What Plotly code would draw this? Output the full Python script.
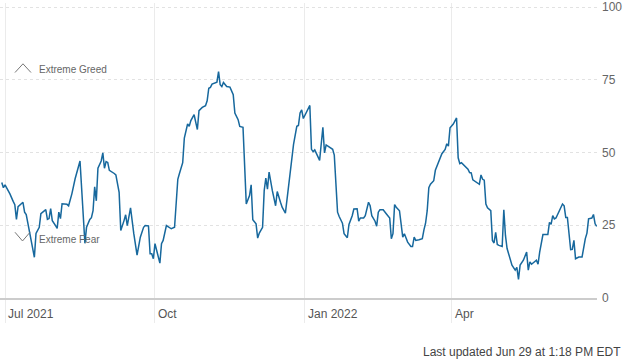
import plotly.graph_objects as go

# ---- data ----
dates = [
    "2021-06-29", "2021-06-30", "2021-07-01", "2021-07-02", "2021-07-04", "2021-07-06", "2021-07-07",
    "2021-07-08", "2021-07-09", "2021-07-12", "2021-07-13", "2021-07-14", "2021-07-16", "2021-07-19",
    "2021-07-20", "2021-07-22", "2021-07-23", "2021-07-26", "2021-07-27", "2021-07-28", "2021-07-29",
    "2021-07-30", "2021-08-01", "2021-08-02", "2021-08-03", "2021-08-04", "2021-08-05", "2021-08-08",
    "2021-08-09", "2021-08-11", "2021-08-13", "2021-08-16", "2021-08-19", "2021-08-20", "2021-08-22",
    "2021-08-23", "2021-08-24", "2021-08-25", "2021-08-26", "2021-08-27", "2021-08-29", "2021-08-30",
    "2021-08-31", "2021-09-01", "2021-09-02", "2021-09-03", "2021-09-06", "2021-09-07", "2021-09-09",
    "2021-09-10", "2021-09-12", "2021-09-13", "2021-09-14", "2021-09-16", "2021-09-18", "2021-09-19",
    "2021-09-20", "2021-09-22", "2021-09-24", "2021-09-25", "2021-09-27", "2021-09-28", "2021-09-29",
    "2021-09-30", "2021-10-01", "2021-10-02", "2021-10-04", "2021-10-05", "2021-10-06", "2021-10-08",
    "2021-10-10", "2021-10-11", "2021-10-13", "2021-10-15", "2021-10-16", "2021-10-18", "2021-10-19",
    "2021-10-21", "2021-10-22", "2021-10-23", "2021-10-25", "2021-10-27", "2021-10-28", "2021-10-30",
    "2021-11-01", "2021-11-02", "2021-11-03", "2021-11-04", "2021-11-05", "2021-11-08", "2021-11-09",
    "2021-11-10", "2021-11-11", "2021-11-12", "2021-11-14", "2021-11-16", "2021-11-18", "2021-11-19",
    "2021-11-21", "2021-11-22", "2021-11-24", "2021-11-26", "2021-11-28", "2021-11-29", "2021-11-30",
    "2021-12-02", "2021-12-03", "2021-12-04", "2021-12-06", "2021-12-07", "2021-12-08", "2021-12-09",
    "2021-12-10", "2021-12-11", "2021-12-12", "2021-12-14", "2021-12-15", "2021-12-17", "2021-12-18",
    "2021-12-20", "2021-12-22", "2021-12-24", "2021-12-25", "2021-12-27", "2021-12-28", "2021-12-29",
    "2021-12-30", "2021-12-31", "2022-01-02", "2022-01-04", "2022-01-05", "2022-01-06", "2022-01-07",
    "2022-01-09", "2022-01-10", "2022-01-12", "2022-01-13", "2022-01-14", "2022-01-16", "2022-01-18",
    "2022-01-19", "2022-01-21", "2022-01-22", "2022-01-24", "2022-01-25", "2022-01-27", "2022-01-28",
    "2022-01-30", "2022-01-31", "2022-02-02", "2022-02-03", "2022-02-04", "2022-02-06", "2022-02-07",
    "2022-02-09", "2022-02-10", "2022-02-11", "2022-02-13", "2022-02-14", "2022-02-15", "2022-02-16",
    "2022-02-18", "2022-02-20", "2022-02-22", "2022-02-23", "2022-02-24", "2022-02-25", "2022-02-26",
    "2022-02-28", "2022-03-01", "2022-03-02", "2022-03-03", "2022-03-05", "2022-03-07", "2022-03-08",
    "2022-03-09", "2022-03-10", "2022-03-12", "2022-03-14", "2022-03-15", "2022-03-16", "2022-03-17",
    "2022-03-18", "2022-03-19", "2022-03-21", "2022-03-22", "2022-03-23", "2022-03-25", "2022-03-26",
    "2022-03-28", "2022-03-29", "2022-03-30", "2022-03-31", "2022-04-02", "2022-04-04", "2022-04-05",
    "2022-04-06", "2022-04-07", "2022-04-09", "2022-04-11", "2022-04-12", "2022-04-13", "2022-04-14",
    "2022-04-16", "2022-04-18", "2022-04-19", "2022-04-20", "2022-04-21", "2022-04-22", "2022-04-23",
    "2022-04-25", "2022-04-26", "2022-04-27", "2022-04-28", "2022-04-29", "2022-04-30", "2022-05-02",
    "2022-05-03", "2022-05-04", "2022-05-05", "2022-05-07", "2022-05-08", "2022-05-10", "2022-05-11",
    "2022-05-12", "2022-05-13", "2022-05-15", "2022-05-17", "2022-05-18", "2022-05-19", "2022-05-20",
    "2022-05-21", "2022-05-23", "2022-05-24", "2022-05-25", "2022-05-27", "2022-05-30", "2022-05-31",
    "2022-06-01", "2022-06-02", "2022-06-03", "2022-06-04", "2022-06-06", "2022-06-08", "2022-06-09",
    "2022-06-10", "2022-06-11", "2022-06-12", "2022-06-13", "2022-06-14", "2022-06-15", "2022-06-16",
    "2022-06-18", "2022-06-20", "2022-06-21", "2022-06-22", "2022-06-23", "2022-06-24", "2022-06-26",
    "2022-06-27", "2022-06-28", "2022-06-29",
]

index_values = [
    39.7, 37.9, 38.9, 38.0, 35.8, 33.2, 32.1,
    27.0, 31.4, 32.9, 29.5, 28.7, 23.2, 14.0,
    22.2, 24.3, 29.0, 30.4, 27.0, 27.3, 30.7,
    26.6, 24.9, 23.9, 29.5, 27.3, 32.4, 32.2,
    31.7, 35.8, 41.0, 47.1, 18.8, 24.3, 27.0,
    27.6, 30.0, 38.2, 33.4, 44.6, 47.1, 49.9,
    44.6, 46.9, 46.6, 43.9, 42.8, 42.3, 36.3,
    23.2, 26.6, 28.6, 24.9, 31.0, 22.1, 18.7,
    14.7, 20.9, 24.3, 24.9, 24.8, 15.2, 15.2,
    13.5, 18.7, 16.4, 12.0, 18.7, 19.8, 24.9,
    24.3, 23.8, 24.3, 40.8, 42.8, 46.5, 55.0,
    59.8, 59.0, 61.0, 63.0, 57.9, 64.4, 65.5,
    66.1, 67.8, 72.1, 72.4, 73.5, 74.2, 77.8,
    73.3, 72.7, 74.1, 72.7, 72.5, 69.9, 63.6,
    61.3, 59.0, 58.7, 32.3, 35.2, 38.9, 26.9,
    25.5, 20.6, 22.3, 24.3, 36.9, 41.2, 37.4,
    43.3, 39.7, 36.9, 31.7, 36.6, 32.9, 31.2,
    29.2, 38.6, 46.5, 52.8, 59.0, 59.3, 63.6,
    64.7, 61.7, 64.2, 66.2, 51.1, 50.3, 50.9,
    48.5, 47.3, 58.7, 49.9, 52.6, 51.9, 51.1,
    49.1, 29.5, 28.0, 25.7, 22.1, 20.7, 25.3,
    28.3, 30.6, 30.7, 26.4, 27.5, 27.5, 28.3,
    32.9, 31.7, 28.3, 26.4, 24.7, 29.5, 30.3,
    30.3, 28.9, 27.5, 20.4, 22.1, 32.1, 31.2,
    30.0, 24.3, 20.9, 22.1, 19.2, 17.7, 17.7,
    20.9, 19.8, 20.0, 20.4, 23.4, 25.7, 30.0,
    37.9, 39.1, 40.3, 43.9, 45.4, 48.2, 49.6,
    51.1, 53.0, 52.2, 58.5, 59.8, 61.9, 48.2,
    46.2, 46.5, 45.4, 44.3, 43.1, 43.0, 40.6,
    39.9, 39.1, 42.3, 40.8, 40.5, 32.3, 31.0,
    30.0, 19.8, 18.9, 22.6, 18.4, 18.1, 17.7,
    30.3, 21.5, 17.0, 13.5, 11.3, 9.6, 10.5,
    6.4, 11.3, 13.0, 15.8, 9.6, 12.4, 11.6,
    12.0, 13.0, 11.6, 15.8, 21.8, 21.8, 26.0,
    25.3, 28.3, 27.2, 27.5, 30.0, 32.3, 31.7,
    27.7, 27.7, 20.9, 16.6, 16.7, 19.8, 13.5,
    14.1, 14.1, 17.5, 20.4, 22.3, 27.2, 27.5,
    28.7, 25.5, 24.6,
]

x_tick_dates = ["2021-07-01", "2021-10-01", "2022-01-01", "2022-04-01"]
x_tick_labels = ["Jul 2021", "Oct", "Jan 2022", "Apr"]
y_tick_values = [0, 25, 50, 75, 100]
y_tick_labels = ["0", "25", "50", "75", "100"]

zone_labels = ["Extreme Greed", "Extreme Fear"]
zone_levels = [78.6, 20.2]          # vertical position of the zone labels (index units)
updated_text = "Last updated Jun 29 at 1:18 PM EDT"

FONT = "Liberation Sans, Arial, sans-serif"
LINE_COLOR = "#17689d"
GRID_V = "#ebebeb"
GRID_H = "#e2e2e2"

fig = go.Figure()
fig.add_trace(go.Scatter(
    x=dates, y=index_values, mode="lines",
    line=dict(color=LINE_COLOR, width=1.5),
    hoverinfo="skip", showlegend=False,
))

annotations = []
for d, lab in zip(x_tick_dates, x_tick_labels):
    annotations.append(dict(
        x=d, xref="x", y=0, yref="paper", yanchor="top", xanchor="left",
        xshift=1, yshift=-7, text=lab, showarrow=False,
        font=dict(family=FONT, size=12, color="#555555"),
    ))

shapes = []
for lab, lvl in zip(zone_labels, zone_levels):
    annotations.append(dict(
        x=0.062, xref="paper", y=lvl, yref="y", xanchor="left", yanchor="middle",
        text=lab, showarrow=False,
        font=dict(family=FONT, size=10, color="#666666"),
    ))

# up chevron (greed) and down chevron (fear)
shapes.append(dict(type="path", xref="paper", yref="y",
                   path="M 0.0251,77.5 L 0.0385,80.5 L 0.0519,77.5",
                   line=dict(color="#777777", width=1)))
shapes.append(dict(type="path", xref="paper", yref="y",
                   path="M 0.0251,22.6 L 0.0377,19.6 L 0.0503,22.6",
                   line=dict(color="#777777", width=1)))

annotations.append(dict(
    x=1, xref="paper", xshift=26, y=-0.184, yref="paper",
    xanchor="right", yanchor="middle", text=updated_text, showarrow=False,
    font=dict(family=FONT, size=12, color="#444444"),
))

fig.update_layout(
    width=630, height=364,
    margin=dict(l=0, r=33, t=1, b=66),
    paper_bgcolor="white", plot_bgcolor="white",
    font=dict(family=FONT, size=12, color="#666666"),
    xaxis=dict(
        type="date",
        range=["2021-06-27 22:00", "2022-06-29 04:00"],
        tickvals=x_tick_dates, showticklabels=False,
        showgrid=True, gridcolor=GRID_V, gridwidth=1,
        ticks="outside", ticklen=23, tickcolor=GRID_V, tickwidth=1,
        showline=True, linecolor="#cccccc", linewidth=2,
        zeroline=False, fixedrange=True,
    ),
    yaxis=dict(
        range=[0, 101.4], side="right",
        tickvals=y_tick_values, ticktext=y_tick_labels,
        showgrid=True, gridcolor=GRID_H, gridwidth=1, griddash="3px,3px",
        zeroline=False, ticks="", ticklabelstandoff=4,
        ticklabeloverflow="allow",
        tickfont=dict(family=FONT, size=12, color="#666666"),
        fixedrange=True,
    ),
    annotations=annotations,
    shapes=shapes,
    hovermode=False,
)

fig.write_html(
    "out.html",
    config={"displayModeBar": False},
    post_script="document.body.style.margin='0';document.body.style.overflow='hidden';",
)
